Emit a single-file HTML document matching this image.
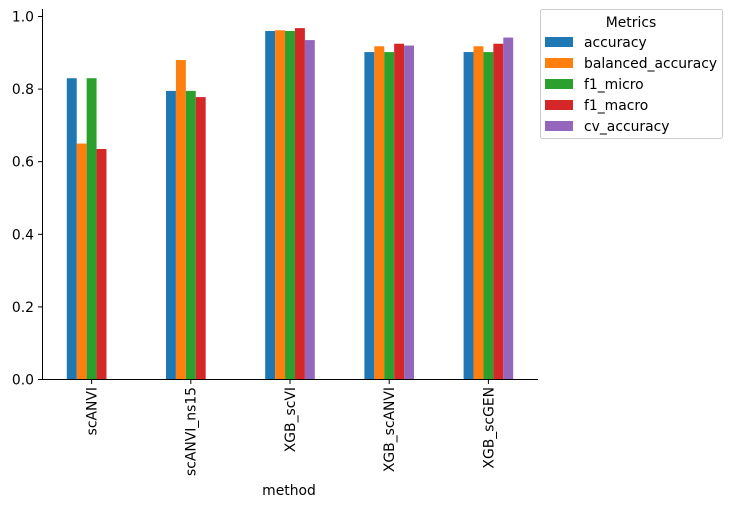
<!DOCTYPE html>
<html><head><meta charset="utf-8"><style>
body{margin:0;background:#fff}
svg{display:block;font-family:"DejaVu Sans","Liberation Sans",sans-serif;font-size:13.9px;fill:#000}
</style></head><body>
<svg id="s" width="733" height="507" viewBox="0 0 733 507" xmlns="http://www.w3.org/2000/svg">
<g id="bars"></g>
<g stroke="#000" stroke-width="1" fill="none">
<line x1="42.5" y1="9" x2="42.5" y2="379.5"/>
<line x1="42" y1="379.5" x2="538" y2="379.5"/>
</g>
<g stroke="#000" stroke-width="1">
<line x1="38" y1="379.5" x2="42" y2="379.5"/>
<line x1="38" y1="306.9" x2="42" y2="306.9"/>
<line x1="38" y1="234.3" x2="42" y2="234.3"/>
<line x1="38" y1="161.7" x2="42" y2="161.7"/>
<line x1="38" y1="89.1" x2="42" y2="89.1"/>
<line x1="38" y1="16.5" x2="42" y2="16.5"/>
<line x1="91.6" y1="380" x2="91.6" y2="384"/>
<line x1="190.8" y1="380" x2="190.8" y2="384"/>
<line x1="290" y1="380" x2="290" y2="384"/>
<line x1="389.2" y1="380" x2="389.2" y2="384"/>
<line x1="488.4" y1="380" x2="488.4" y2="384"/>
</g>
<g text-anchor="end">
<text x="34" y="384.5">0.0</text>
<text x="34" y="311.9">0.2</text>
<text x="34" y="239.3">0.4</text>
<text x="34" y="166.7">0.6</text>
<text x="34" y="94.1">0.8</text>
<text x="34" y="21.5">1.0</text>
</g>
<g text-anchor="end">
<text transform="translate(96.5,387) rotate(-90)">scANVI</text>
<text transform="translate(195.5,387) rotate(-90)">scANVI_ns15</text>
<text transform="translate(295,387) rotate(-90)">XGB_scVI</text>
<text transform="translate(394,387) rotate(-90)">XGB_scANVI</text>
<text transform="translate(493.5,387) rotate(-90)">XGB_scGEN</text>
</g>
<text x="289" y="495" text-anchor="middle">method</text>
<rect x="540.5" y="9.5" width="182" height="129" rx="2" fill="#fff" stroke="#ccc"/>
<text x="631" y="27" text-anchor="middle">Metrics</text>
<rect x="545" y="37" width="28" height="10" fill="#1f77b4"/><text x="584" y="47">accuracy</text>
<rect x="545" y="58" width="28" height="10" fill="#ff7f0e"/><text x="584" y="68">balanced_accuracy</text>
<rect x="545" y="79" width="28" height="10" fill="#2ca02c"/><text x="584" y="89">f1_micro</text>
<rect x="545" y="100" width="28" height="10" fill="#d62728"/><text x="584" y="110">f1_macro</text>
<rect x="545" y="121" width="28" height="10" fill="#9467bd"/><text x="584" y="131">cv_accuracy</text>
</svg>
<script>
var d=[[0.83,0.65,0.83,0.635,null],[0.795,0.88,0.795,0.778,null],[0.96,0.962,0.96,0.968,0.935],[0.902,0.918,0.902,0.925,0.92],[0.902,0.918,0.902,0.925,0.942]];
var c=["#1f77b4","#ff7f0e","#2ca02c","#d62728","#9467bd"];
var g=document.getElementById("bars"),h="";
for(var i=0;i<5;i++){var cx=91.6+99.2*i;for(var j=0;j<5;j++){var v=d[i][j];if(v==null)continue;
var x=cx-24.8+9.92*j,y=379.5-363*v;h+='<rect x="'+x+'" y="'+y+'" width="9.92" height="'+(363*v)+'" fill="'+c[j]+'"/>';}}
g.innerHTML=h;
</script>
</body></html>
